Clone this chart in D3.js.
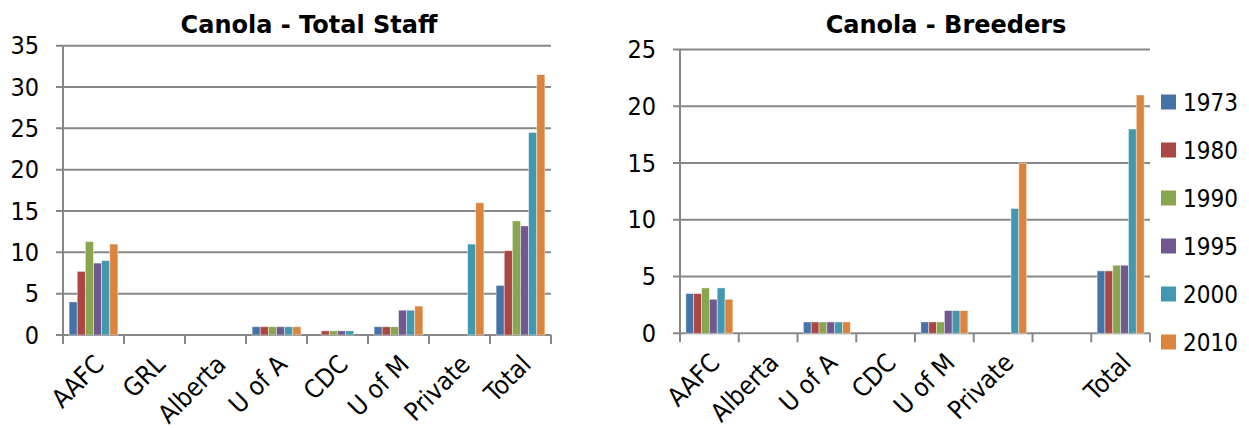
<!DOCTYPE html>
<html><head><meta charset="utf-8">
<script src="https://cdn.jsdelivr.net/npm/d3@7"></script>
<style>
body{margin:0;background:#fff;}
svg{display:block;font-family:"DejaVu Sans Condensed","DejaVu Sans",Verdana,sans-serif;}
</style></head>
<body>
<svg id="chart" width="1249" height="428"></svg>
<script>
const years = ["1973","1980","1990","1995","2000","2010"];
const colors = ["#4572A7","#AA4643","#89A54E","#71588F","#4198AF","#DB843D"];

const staffCategories = ["AAFC","GRL","Alberta","U of A","CDC","U of M","Private","Total"];
const staff1973 = [4, 0, 0, 1, 0, 1, 0, 6];
const staff1980 = [7.7, 0, 0, 1, 0.5, 1, 0, 10.2];
const staff1990 = [11.3, 0, 0, 1, 0.5, 1, 0, 13.8];
const staff1995 = [8.7, 0, 0, 1, 0.5, 3, 0, 13.2];
const staff2000 = [9, 0, 0, 1, 0.5, 3, 11, 24.5];
const staff2010 = [11, 0, 0, 1, 0, 3.5, 16, 31.5];
const staffTicks = [0,5,10,15,20,25,30,35];

const breederCategories = ["AAFC","Alberta","U of A","CDC","U of M","Private","","Total"];
const breeders1973 = [3.5, 0, 1, 0, 1, 0, 0, 5.5];
const breeders1980 = [3.5, 0, 1, 0, 1, 0, 0, 5.5];
const breeders1990 = [4, 0, 1, 0, 1, 0, 0, 6];
const breeders1995 = [3, 0, 1, 0, 2, 0, 0, 6];
const breeders2000 = [4, 0, 1, 0, 2, 11, 0, 18];
const breeders2010 = [3, 0, 1, 0, 2, 15, 0, 21];
const breederTicks = [0,5,10,15,20,25];

const svg = d3.select("#chart");
const grid = "#878787";
const FONT = "DejaVu Sans Condensed, DejaVu Sans, Verdana, sans-serif";

function drawChart(opt){
  const g = svg.append("g");
  const x0 = d3.scaleBand().domain(opt.categories).range([opt.left, opt.right]).paddingInner(0).paddingOuter(0);
  const C = x0.bandwidth();
  const x1 = d3.scaleBand().domain(years).range([C*0.1, C*0.9]).padding(0);
  const y = d3.scaleLinear().domain([0, opt.max]).range([opt.bottom, opt.top]);

  // gridlines
  g.append("g").selectAll("line").data(opt.ticks).join("line")
    .attr("x1", opt.left - 7).attr("x2", opt.right)
    .attr("y1", d => y(d)).attr("y2", d => y(d))
    .attr("stroke", grid).attr("stroke-width", 2);

  // y axis labels
  const ya = d3.axisLeft(y).tickValues(opt.ticks).tickSize(0).tickPadding(24);
  const yg = g.append("g").attr("transform", `translate(${opt.left},0)`).call(ya);
  yg.select(".domain").remove();
  yg.selectAll("text").attr("font-size", 25).attr("fill", "#000")
    .attr("font-family", FONT);

  // y axis line
  g.append("line").attr("x1", opt.left).attr("x2", opt.left)
    .attr("y1", y(opt.max)).attr("y2", opt.bottom + 9)
    .attr("stroke", grid).attr("stroke-width", 2);

  // x ticks at category boundaries
  const bounds = opt.categories.map(c => x0(c)).concat([opt.right]);
  g.append("g").selectAll("line").data(bounds.slice(1)).join("line")
    .attr("x1", d => d).attr("x2", d => d)
    .attr("y1", opt.bottom).attr("y2", opt.bottom + 9)
    .attr("stroke", grid).attr("stroke-width", 2);

  // bars
  opt.series.forEach((vals, si) => {
    g.append("g").selectAll("rect").data(opt.categories.map((c, i) => ({c, v: vals[i]})))
      .join("rect")
      .attr("x", d => x0(d.c) + x1(years[si]))
      .attr("width", x1.bandwidth())
      .attr("y", d => y(d.v))
      .attr("height", d => opt.bottom - y(d.v))
      .attr("fill", colors[si])
      .attr("stroke", "rgba(255,255,255,0.55)").attr("stroke-width", 0.8);
  });

  // x labels
  g.append("g").selectAll("text").data(opt.categories).join("text")
    .attr("transform", d => `translate(${x0(d) + C/2 + 12},${opt.bottom + 31}) rotate(-45)`)
    .attr("text-anchor", "end")
    .attr("font-size", 25.5)
    .attr("font-family", FONT)
    .attr("fill", "#000")
    .text(d => d);

  // title
  g.append("text").attr("x", opt.titleX).attr("y", 33)
    .attr("text-anchor", "middle").attr("font-size", 24).attr("font-weight", "bold")
    .attr("font-family", "DejaVu Sans, Verdana, sans-serif")
    .text(opt.title);
  return {x0, y};
}

drawChart({
  categories: staffCategories,
  series: [staff1973, staff1980, staff1990, staff1995, staff2000, staff2010],
  ticks: staffTicks, max: 35,
  left: 63, right: 551, top: 45.7, bottom: 335,
  title: "Canola - Total Staff", titleX: 309
});

drawChart({
  categories: breederCategories,
  series: [breeders1973, breeders1980, breeders1990, breeders1995, breeders2000, breeders2010],
  ticks: breederTicks, max: 25,
  left: 680, right: 1150, top: 49.6, bottom: 333.3,
  title: "Canola - Breeders", titleX: 946
});

// legend
const leg = svg.append("g");
const ly = d3.scalePoint().domain(years).range([102, 342]);
years.forEach((yr, i) => {
  leg.append("rect").attr("x", 1161).attr("y", ly(yr) - 7.5).attr("width", 15).attr("height", 15).attr("fill", colors[i]);
  leg.append("text").attr("x", 1183).attr("y", ly(yr)).attr("dy", "0.36em")
    .attr("font-size", 24).attr("font-family", FONT).attr("fill", "#000").text(yr);
});
</script>
</body></html>
